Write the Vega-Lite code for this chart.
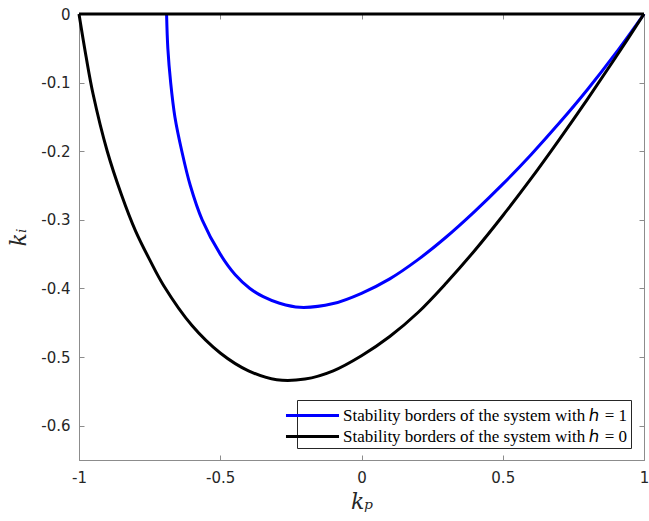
{
  "$schema": "https://vega.github.io/schema/vega-lite/v6.json",
  "width": 565,
  "height": 446,
  "autosize": {"type": "none"},
  "padding": {"left": 79, "top": 14, "right": 5, "bottom": 61},
  "background": "white",
  "config": {
    "view": {"stroke": "#8c8c8c", "strokeWidth": 1},
    "axis": {
      "grid": false,
      "domainColor": "#8c8c8c",
      "tickColor": "#8c8c8c",
      "tickSize": -5,
      "labelFlush": false,
      "labelOverlap": false,
      "labelFont": "DejaVu Sans",
      "labelFontSize": 15,
      "labelColor": "#262626",
      "labelExpr": "'' + datum.value",
      "titleFont": "DejaVu Serif",
      "titleFontStyle": "italic",
      "titleFontWeight": "normal",
      "titleFontSize": 22,
      "titleColor": "#262626"
    }
  },
  "data": {
    "values": [
      {"kp": -0.69, "ki": 0.0, "s": "Stability borders of the system with ℎ = 1"},
      {"kp": -0.6855, "ki": -0.05, "s": "Stability borders of the system with ℎ = 1"},
      {"kp": -0.6755, "ki": -0.1, "s": "Stability borders of the system with ℎ = 1"},
      {"kp": -0.6605, "ki": -0.15, "s": "Stability borders of the system with ℎ = 1"},
      {"kp": -0.636, "ki": -0.2, "s": "Stability borders of the system with ℎ = 1"},
      {"kp": -0.606, "ki": -0.25, "s": "Stability borders of the system with ℎ = 1"},
      {"kp": -0.564, "ki": -0.3, "s": "Stability borders of the system with ℎ = 1"},
      {"kp": -0.5, "ki": -0.35, "s": "Stability borders of the system with ℎ = 1"},
      {"kp": -0.447, "ki": -0.38, "s": "Stability borders of the system with ℎ = 1"},
      {"kp": -0.395, "ki": -0.4, "s": "Stability borders of the system with ℎ = 1"},
      {"kp": -0.348, "ki": -0.412, "s": "Stability borders of the system with ℎ = 1"},
      {"kp": -0.29, "ki": -0.4215, "s": "Stability borders of the system with ℎ = 1"},
      {"kp": -0.218, "ki": -0.4275, "s": "Stability borders of the system with ℎ = 1"},
      {"kp": -0.1, "ki": -0.422, "s": "Stability borders of the system with ℎ = 1"},
      {"kp": 0.0, "ki": -0.407, "s": "Stability borders of the system with ℎ = 1"},
      {"kp": 0.1, "ki": -0.386, "s": "Stability borders of the system with ℎ = 1"},
      {"kp": 0.2, "ki": -0.358, "s": "Stability borders of the system with ℎ = 1"},
      {"kp": 0.3, "ki": -0.325, "s": "Stability borders of the system with ℎ = 1"},
      {"kp": 0.4, "ki": -0.288, "s": "Stability borders of the system with ℎ = 1"},
      {"kp": 0.5, "ki": -0.248, "s": "Stability borders of the system with ℎ = 1"},
      {"kp": 0.6, "ki": -0.205, "s": "Stability borders of the system with ℎ = 1"},
      {"kp": 0.7, "ki": -0.159, "s": "Stability borders of the system with ℎ = 1"},
      {"kp": 0.8, "ki": -0.11, "s": "Stability borders of the system with ℎ = 1"},
      {"kp": 0.9, "ki": -0.057, "s": "Stability borders of the system with ℎ = 1"},
      {"kp": 1.0, "ki": 0.0, "s": "Stability borders of the system with ℎ = 1"},
      {"kp": -1.0, "ki": 0.0, "s": "Stability borders of the system with ℎ = 0"},
      {"kp": -0.975, "ki": -0.062, "s": "Stability borders of the system with ℎ = 0"},
      {"kp": -0.95, "ki": -0.117, "s": "Stability borders of the system with ℎ = 0"},
      {"kp": -0.9, "ki": -0.2, "s": "Stability borders of the system with ℎ = 0"},
      {"kp": -0.85, "ki": -0.263, "s": "Stability borders of the system with ℎ = 0"},
      {"kp": -0.8, "ki": -0.316, "s": "Stability borders of the system with ℎ = 0"},
      {"kp": -0.75, "ki": -0.358, "s": "Stability borders of the system with ℎ = 0"},
      {"kp": -0.7, "ki": -0.396, "s": "Stability borders of the system with ℎ = 0"},
      {"kp": -0.6, "ki": -0.454, "s": "Stability borders of the system with ℎ = 0"},
      {"kp": -0.5, "ki": -0.494, "s": "Stability borders of the system with ℎ = 0"},
      {"kp": -0.4, "ki": -0.52, "s": "Stability borders of the system with ℎ = 0"},
      {"kp": -0.3, "ki": -0.533, "s": "Stability borders of the system with ℎ = 0"},
      {"kp": -0.2, "ki": -0.532, "s": "Stability borders of the system with ℎ = 0"},
      {"kp": -0.1, "ki": -0.52, "s": "Stability borders of the system with ℎ = 0"},
      {"kp": 0.0, "ki": -0.498, "s": "Stability borders of the system with ℎ = 0"},
      {"kp": 0.1, "ki": -0.47, "s": "Stability borders of the system with ℎ = 0"},
      {"kp": 0.2, "ki": -0.435, "s": "Stability borders of the system with ℎ = 0"},
      {"kp": 0.3, "ki": -0.392, "s": "Stability borders of the system with ℎ = 0"},
      {"kp": 0.4, "ki": -0.345, "s": "Stability borders of the system with ℎ = 0"},
      {"kp": 0.5, "ki": -0.294, "s": "Stability borders of the system with ℎ = 0"},
      {"kp": 0.6, "ki": -0.24, "s": "Stability borders of the system with ℎ = 0"},
      {"kp": 0.7, "ki": -0.183, "s": "Stability borders of the system with ℎ = 0"},
      {"kp": 0.8, "ki": -0.124, "s": "Stability borders of the system with ℎ = 0"},
      {"kp": 0.9, "ki": -0.063, "s": "Stability borders of the system with ℎ = 0"},
      {"kp": 1.0, "ki": 0.0, "s": "Stability borders of the system with ℎ = 0"},
      {"kp": -1.0, "ki": 0.0, "s": "top"},
      {"kp": 1.0, "ki": 0.0, "s": "top"}
    ]
  },
  "resolve": {"axis": {"x": "independent", "y": "independent"}},
  "layer": [
    {
      "transform": [{"filter": "datum.s !== 'top'"}],
      "mark": {"type": "line", "strokeWidth": 3, "interpolate": "catmull-rom", "clip": false},
      "encoding": {
        "x": {"field": "kp", "type": "quantitative",
              "scale": {"domain": [-1, 1], "nice": false, "zero": false},
              "axis": {"title": "kₚ", "values": [-1, -0.5, 0, 0.5, 1], "labelPadding": 15, "titlePadding": 6}},
        "y": {"field": "ki", "type": "quantitative",
              "scale": {"domain": [-0.65, 0], "nice": false, "zero": false},
              "axis": {"title": "kᵢ", "values": [-0.6, -0.5, -0.4, -0.3, -0.2, -0.1, 0], "labelPadding": 14, "titlePadding": 10}},
        "color": {"field": "s", "type": "nominal",
                  "scale": {"domain": ["Stability borders of the system with ℎ = 1", "Stability borders of the system with ℎ = 0"], "range": ["#0000ff", "#000000"]},
                  "legend": {
                    "title": null, "orient": "none", "legendX": 218, "legendY": 386,
                    "symbolType": "M-2.5,0H2.5", "symbolSize": 450, "symbolStrokeWidth": 3,
                    "labelFont": "Liberation Serif", "labelFontSize": 17, "labelColor": "#000000",
                    "labelLimit": 400, "labelOffset": 18, "rowPadding": 0,
                    "padding": 3, "strokeColor": "#262626", "fillColor": "white"
                  }},
        "order": {"field": "kp", "type": "quantitative"}
      }
    },
    {
      "transform": [{"filter": "datum.s === 'top'"}],
      "mark": {"type": "line", "strokeWidth": 3, "color": "#000000", "clip": false},
      "encoding": {
        "x": {"field": "kp", "type": "quantitative",
              "axis": {"orient": "top", "labels": false, "title": null, "values": [-1, -0.5, 0, 0.5, 1]}},
        "y": {"field": "ki", "type": "quantitative",
              "axis": {"orient": "right", "labels": false, "title": null, "values": [-0.6, -0.5, -0.4, -0.3, -0.2, -0.1, 0]}}
      }
    }
  ]
}
